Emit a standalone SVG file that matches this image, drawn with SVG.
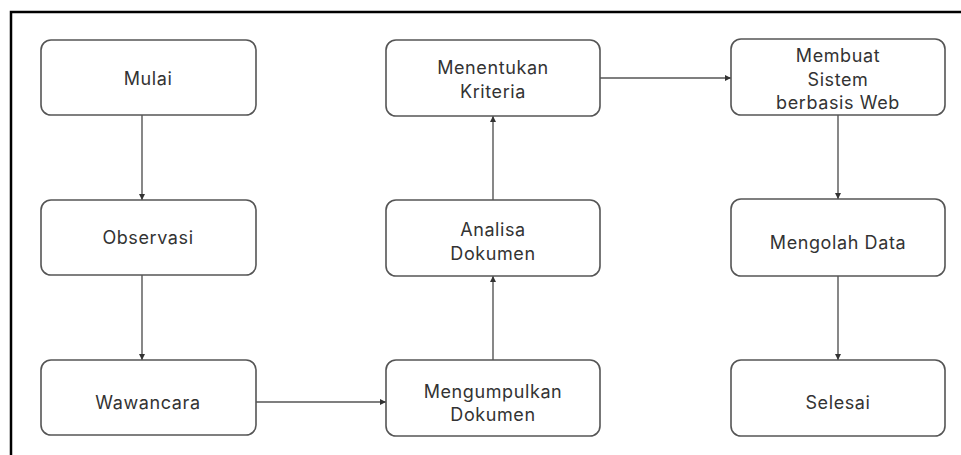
<svg xmlns="http://www.w3.org/2000/svg" width="961" height="455" viewBox="0 0 961 455">
<style>
.n rect{fill:#fff;stroke:#555;stroke-width:1.6}
.n text{font-family:Inter,"Noto Sans",sans-serif;font-size:18px;letter-spacing:0.6px;fill:#333;text-anchor:middle;dominant-baseline:central}
.c line{stroke:#555;stroke-width:1.4;marker-end:url(#ah)}
</style>
<defs>
<marker id="ah" viewBox="0 0 6 6" refX="6" refY="3" markerWidth="6" markerHeight="6" markerUnits="userSpaceOnUse" orient="auto"><path d="M0,0L6,3L0,6z" fill="#333"/></marker>
</defs>
<rect width="961" height="455" fill="#fff"/>
<path d="M11,455V12H961" fill="none" stroke="#000" stroke-width="2.5"/>
<g class="c">
<line x1="142" y1="115" x2="142" y2="200"/>
<line x1="142" y1="275" x2="142" y2="360"/>
<line x1="256" y1="402" x2="386" y2="402"/>
<line x1="493" y1="360" x2="493" y2="276"/>
<line x1="493" y1="200" x2="493" y2="116"/>
<line x1="600" y1="78" x2="731" y2="78"/>
<line x1="838" y1="115" x2="838" y2="199"/>
<line x1="838" y1="276" x2="838" y2="360"/>
</g>
<g id="mulai" class="n"><rect x="41" y="40" width="215" height="75" rx="10"/><text x="148" y="78">Mulai</text></g>
<g id="observasi" class="n"><rect x="41" y="200" width="215" height="75" rx="10"/><text x="148" y="237">Observasi</text></g>
<g id="wawancara" class="n"><rect x="41" y="360" width="215" height="75" rx="10"/><text x="148" y="402">Wawancara</text></g>
<g id="mengumpulkan" class="n"><rect x="386" y="360" width="214" height="76" rx="10"/><text x="493" y="391">Mengumpulkan</text><text x="493" y="414">Dokumen</text></g>
<g id="analisa" class="n"><rect x="386" y="200" width="214" height="76" rx="10"/><text x="493" y="229">Analisa</text><text x="493" y="253">Dokumen</text></g>
<g id="menentukan" class="n"><rect x="386" y="40" width="214" height="76" rx="10"/><text x="493" y="67">Menentukan</text><text x="493" y="91">Kriteria</text></g>
<g id="membuat" class="n"><rect x="731" y="39" width="214" height="76" rx="10"/><text x="838" y="55">Membuat</text><text x="838" y="79">Sistem</text><text x="838" y="102">berbasis Web</text></g>
<g id="mengolah" class="n"><rect x="731" y="199" width="214" height="77" rx="10"/><text x="838" y="242">Mengolah Data</text></g>
<g id="selesai" class="n"><rect x="731" y="360" width="214" height="76" rx="10"/><text x="838" y="402">Selesai</text></g>
</svg>
